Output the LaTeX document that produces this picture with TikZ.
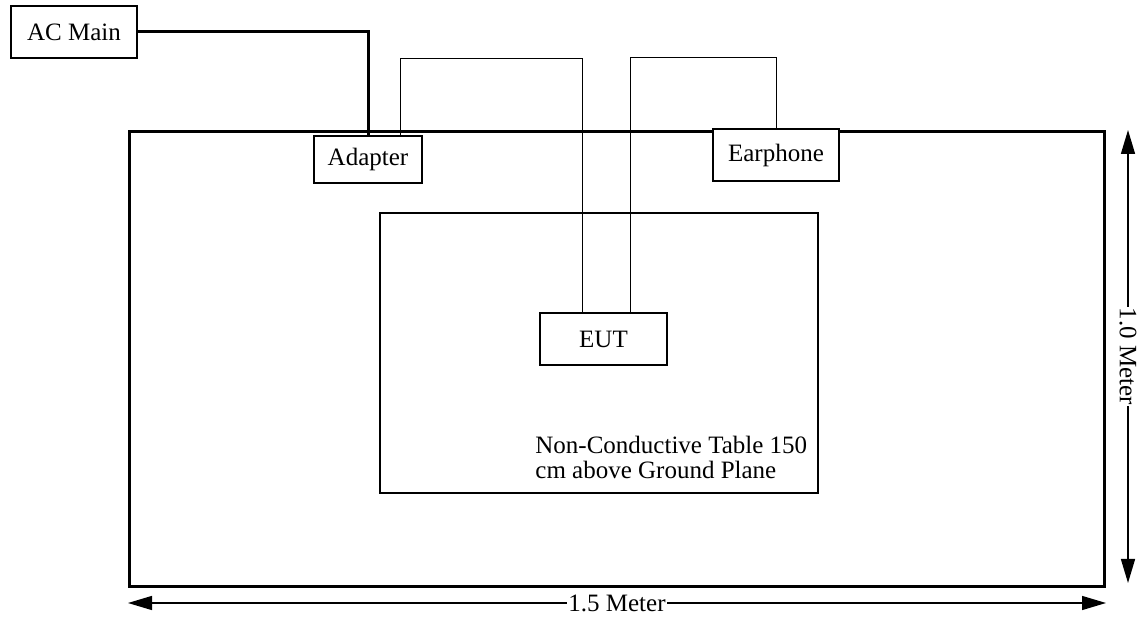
\documentclass[tikz,border=0pt]{standalone}
\usepackage{fontspec}
\setmainfont{Liberation Serif}
\usetikzlibrary{arrows.meta}
\begin{document}
\begin{tikzpicture}[x=0.5pt,y=-0.5pt,
  every node/.style={font=\fontsize{12.5}{12.5}\selectfont},
  box/.style={draw,line width=0.7pt,fill=white,inner sep=0pt},
  plane/.style={draw,line width=1.5pt,inner sep=0pt},
  tablebox/.style={draw,line width=0.7pt,inner sep=0pt},
  wire/.style={line width=0.5pt},
  power/.style={line width=1.5pt},
  dim/.style={line width=0.7pt,{Triangle[length=12pt,width=7pt]}-{Triangle[length=12pt,width=7pt]}},
  dimlabel/.style={fill=white,inner sep=0.5pt}]
\useasboundingbox (0,0) rectangle (1141,625);
% ground plane and table
\node[plane,minimum width=487.5pt,minimum height=227pt] (plane) at (616.5,359) {};
\node[tablebox,minimum width=219pt,minimum height=140pt] (table) at (599,353) {};
\node[anchor=north west,inner sep=0pt,align=left] (tabletext) at (535,436)
  {Non-Conductive Table 150\\cm above Ground Plane};
% wires
\coordinate (w1) at (400,59);
\coordinate (w2) at (582,59);
\coordinate (w3) at (630,58);
\coordinate (w4) at (776,58);
% devices
\node[box,minimum width=63pt,minimum height=26pt] (acmain) at (74,32) {AC Main};
\node[box,minimum width=54pt,minimum height=23.5pt] (adapter) at (368,159.5) {Adapter};
\node[box,minimum width=63pt,minimum height=26pt] (earphone) at (776,155) {Earphone};
\node[box,minimum width=63.5pt,minimum height=26pt] (eut) at (603.5,339) {EUT};
\draw[power] (acmain.east) -| (adapter.north);
\draw[wire] (adapter.north -| w1) -- (w1) -- (w2) -- (w2 |- eut.north);
\draw[wire] (eut.north -| w3) -- (w3) -- (w4) -- (earphone.north);
% dimensions
\coordinate (hl) at (128,603);
\coordinate (hr) at (1106,603);
\coordinate (vt) at (1128,130);
\coordinate (vb) at (1128,583);
\draw[dim] (hl) -- node[dimlabel] (hlabel) {1.5 Meter} (hr);
\draw[dim] (vt) -- node[dimlabel,rotate=-90] (vlabel) {1.0 Meter} (vb);
\end{tikzpicture}
\end{document}
